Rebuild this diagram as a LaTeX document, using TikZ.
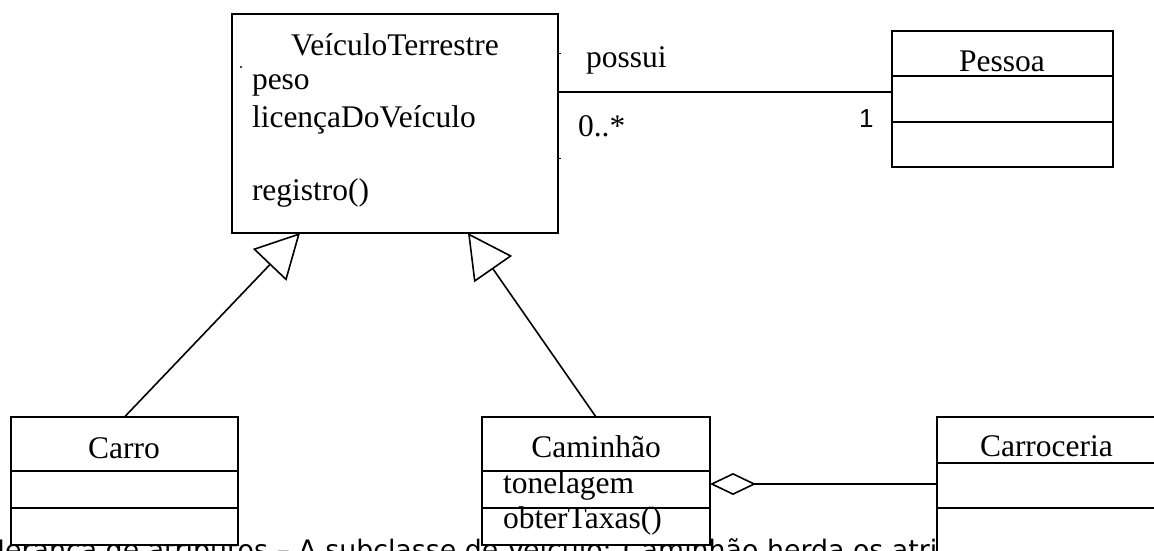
\documentclass[tikz,border=0pt]{standalone}
\usepackage{fontspec}
\setmainfont{Liberation Serif}
\newfontfamily\notefont{DejaVu Sans}
\newfontfamily\multfont{Liberation Sans}
\usetikzlibrary{arrows.meta}
\begin{document}
\begin{tikzpicture}[x=1pt,y=-1pt,line width=1.6pt,
  cls/.style={draw,fill=white,rectangle,inner sep=0pt,outer sep=0pt,anchor=north west},
  lbl/.style={inner sep=0pt,outer sep=0pt,font=\fontsize{31.5}{37}\selectfont},
  inh/.style={-{Triangle[fill=white,length=44pt,width=46pt]}},
  agg/.style={{Diamond[fill=white,length=46pt,width=22pt]}-},
  notestyle/.style={inner sep=0pt,outer sep=0pt,anchor=base west,font=\notefont\fontsize{26.8}{32}\selectfont}]
\useasboundingbox (0,0) rectangle (1154,550);
\clip (0,0) rectangle (1154,550);

% caption text underneath the boxes (cut by the lower edge, as in the reference)
\node[notestyle] (note) at (-15,559) {Herança de atributos – A subclasse de Veículo: Caminhão herda os atributos};

% class boxes
\node[cls,minimum width=326pt,minimum height=219pt] (vt) at (232,14) {};
\node[cls,minimum width=221pt,minimum height=136pt] (pessoa) at (892,31) {};
\node[cls,minimum width=227pt,minimum height=128pt] (carro) at (11,417) {};
\node[cls,minimum width=228pt,minimum height=128pt] (caminhao) at (482,417) {};
\node[cls,minimum width=260pt,minimum height=200pt] (carroc) at (937,417) {};

% compartment dividers
\draw ([yshift=-45pt]pessoa.north west) -- ([yshift=-45pt]pessoa.north east);
\draw ([yshift=-91pt]pessoa.north west) -- ([yshift=-91pt]pessoa.north east);
\draw ([yshift=-54pt]carro.north west) -- ([yshift=-54pt]carro.north east);
\draw ([yshift=-91pt]carro.north west) -- ([yshift=-91pt]carro.north east);
\draw ([yshift=-54pt]caminhao.north west) -- ([yshift=-54pt]caminhao.north east);
\draw ([yshift=-91pt]caminhao.north west) -- ([yshift=-91pt]caminhao.north east);
\draw ([yshift=-46pt]carroc.north west) -- ([yshift=-46pt]carroc.north east);
\draw ([yshift=-91pt]carroc.north west) -- ([yshift=-91pt]carroc.north east);

% texts
\node[lbl,anchor=base] (vtname) at (395,55) {VeículoTerrestre};
\node[lbl,anchor=base west] (peso) at (252,89) {peso};
\node[lbl,anchor=base west] (lic) at (252,127) {licençaDoVeículo};
\node[lbl,anchor=base west] (reg) at (252,200) {registro()};
\node[lbl,anchor=base] (pname) at (1002,71) {Pessoa};
\node[lbl,anchor=base] (cname) at (124,458) {Carro};
\node[lbl,anchor=base] (caname) at (596,457) {Caminhão};
\node[lbl,anchor=base west] (ton) at (503,493) {tonelagem};
\node[lbl,anchor=base west] (obt) at (503,528) {obterTaxas()};
\node[lbl,anchor=base west] (crname) at (980,456) {Carroceria};
\node[lbl,anchor=base west] (possui) at (586,67) {possui};
\node[lbl,anchor=base west] (mult) at (578,136) {0..*};
\node[inner sep=0pt,outer sep=0pt,anchor=base west,font=\multfont\fontsize{26}{31}\selectfont] (one) at (859,127) {1};

% small marks
\fill (241,67) circle (1.1pt);
\draw[line width=1pt] (558,53) -- (561,53);
\draw[line width=1pt] (558,158) -- (561,158);

% connectors
\coordinate (assocY) at (0,92);
\draw (vt.east |- assocY) -- (pessoa.west |- assocY);
\coordinate (aggY) at (0,484);
\draw[agg] (caminhao.east |- aggY) -- (carroc.west |- aggY);
\draw[inh] (carro.north) -- ([xshift=68pt]vt.south west);
\draw[inh] (caminhao.north) -- ([xshift=236pt]vt.south west);
\end{tikzpicture}
\end{document}
